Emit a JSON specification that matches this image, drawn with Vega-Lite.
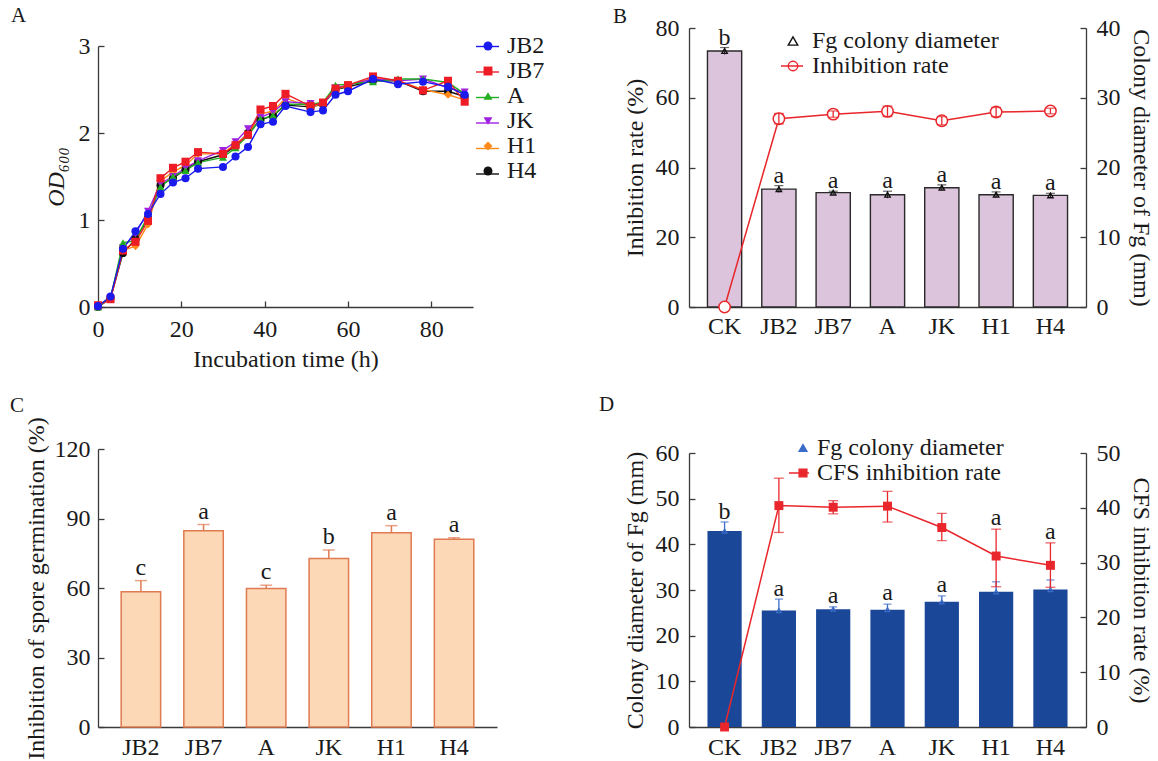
{
"$schema": "https://vega.github.io/schema/vega-lite/v6.json",
"padding": {"top": 5, "left": 10, "right": 5, "bottom": 5},
"config": {
 "font": "Liberation Serif",
 "view": {"stroke": null},
 "axis": {"grid": false, "labelFont": "Liberation Serif", "titleFont": "Liberation Serif", "labelFontSize": 24, "titleFontSize": 24, "titleFontWeight": "normal", "labelColor": "#1a1a1a", "titleColor": "#1a1a1a", "domainColor": "#3a3a3a", "tickColor": "#3a3a3a", "domainWidth": 1.3, "tickWidth": 1.3, "labelFlush": false},
 "legend": {"labelFont": "Liberation Serif", "labelFontSize": 24, "labelColor": "#1a1a1a", "labelLimit": 0},
 "title": {"font": "Liberation Serif", "fontSize": 21, "fontWeight": "normal", "anchor": "start", "frame": "group", "color": "#1a1a1a"}
},
"datasets": {
 "growth": [
  {"s":"H4","t":0,"od":0},{"s":"H4","t":3,"od":0.1},{"s":"H4","t":6,"od":0.62},{"s":"H4","t":9,"od":0.78},{"s":"H4","t":12,"od":1.02},{"s":"H4","t":15,"od":1.4},{"s":"H4","t":18,"od":1.48},{"s":"H4","t":21,"od":1.58},{"s":"H4","t":24,"od":1.67},{"s":"H4","t":30,"od":1.75},{"s":"H4","t":33,"od":1.85},{"s":"H4","t":36,"od":2.0},{"s":"H4","t":39,"od":2.15},{"s":"H4","t":42,"od":2.2},{"s":"H4","t":45,"od":2.32},{"s":"H4","t":51,"od":2.3},{"s":"H4","t":54,"od":2.33},{"s":"H4","t":57,"od":2.5},{"s":"H4","t":60,"od":2.53},{"s":"H4","t":66,"od":2.6},{"s":"H4","t":72,"od":2.6},{"s":"H4","t":78,"od":2.48},{"s":"H4","t":84,"od":2.48},{"s":"H4","t":88,"od":2.42},
  {"s":"H1","t":0,"od":0},{"s":"H1","t":3,"od":0.1},{"s":"H1","t":6,"od":0.65},{"s":"H1","t":9,"od":0.7},{"s":"H1","t":12,"od":0.95},{"s":"H1","t":15,"od":1.45},{"s":"H1","t":18,"od":1.55},{"s":"H1","t":21,"od":1.63},{"s":"H1","t":24,"od":1.76},{"s":"H1","t":30,"od":1.76},{"s":"H1","t":33,"od":1.88},{"s":"H1","t":36,"od":1.98},{"s":"H1","t":39,"od":2.22},{"s":"H1","t":42,"od":2.25},{"s":"H1","t":45,"od":2.4},{"s":"H1","t":51,"od":2.3},{"s":"H1","t":54,"od":2.34},{"s":"H1","t":57,"od":2.5},{"s":"H1","t":60,"od":2.55},{"s":"H1","t":66,"od":2.63},{"s":"H1","t":72,"od":2.6},{"s":"H1","t":78,"od":2.5},{"s":"H1","t":84,"od":2.44},{"s":"H1","t":88,"od":2.38},
  {"s":"JK","t":0,"od":0},{"s":"JK","t":3,"od":0.1},{"s":"JK","t":6,"od":0.68},{"s":"JK","t":9,"od":0.84},{"s":"JK","t":12,"od":1.1},{"s":"JK","t":15,"od":1.42},{"s":"JK","t":18,"od":1.5},{"s":"JK","t":21,"od":1.6},{"s":"JK","t":24,"od":1.68},{"s":"JK","t":30,"od":1.8},{"s":"JK","t":33,"od":1.9},{"s":"JK","t":36,"od":2.05},{"s":"JK","t":39,"od":2.18},{"s":"JK","t":42,"od":2.24},{"s":"JK","t":45,"od":2.36},{"s":"JK","t":51,"od":2.34},{"s":"JK","t":54,"od":2.33},{"s":"JK","t":57,"od":2.52},{"s":"JK","t":60,"od":2.55},{"s":"JK","t":66,"od":2.62},{"s":"JK","t":72,"od":2.6},{"s":"JK","t":78,"od":2.62},{"s":"JK","t":84,"od":2.52},{"s":"JK","t":88,"od":2.47},
  {"s":"A","t":0,"od":0},{"s":"A","t":3,"od":0.1},{"s":"A","t":6,"od":0.74},{"s":"A","t":9,"od":0.76},{"s":"A","t":12,"od":1.05},{"s":"A","t":15,"od":1.38},{"s":"A","t":18,"od":1.5},{"s":"A","t":21,"od":1.57},{"s":"A","t":24,"od":1.66},{"s":"A","t":30,"od":1.72},{"s":"A","t":33,"od":1.83},{"s":"A","t":36,"od":1.97},{"s":"A","t":39,"od":2.16},{"s":"A","t":42,"od":2.2},{"s":"A","t":45,"od":2.33},{"s":"A","t":51,"od":2.33},{"s":"A","t":54,"od":2.35},{"s":"A","t":57,"od":2.55},{"s":"A","t":60,"od":2.56},{"s":"A","t":66,"od":2.59},{"s":"A","t":72,"od":2.62},{"s":"A","t":78,"od":2.62},{"s":"A","t":84,"od":2.58},{"s":"A","t":88,"od":2.45},
  {"s":"JB7","t":0,"od":0.02},{"s":"JB7","t":3,"od":0.09},{"s":"JB7","t":6,"od":0.65},{"s":"JB7","t":9,"od":0.75},{"s":"JB7","t":12,"od":0.99},{"s":"JB7","t":15,"od":1.48},{"s":"JB7","t":18,"od":1.6},{"s":"JB7","t":21,"od":1.67},{"s":"JB7","t":24,"od":1.78},{"s":"JB7","t":30,"od":1.76},{"s":"JB7","t":33,"od":1.86},{"s":"JB7","t":36,"od":1.98},{"s":"JB7","t":39,"od":2.27},{"s":"JB7","t":42,"od":2.31},{"s":"JB7","t":45,"od":2.45},{"s":"JB7","t":51,"od":2.31},{"s":"JB7","t":54,"od":2.35},{"s":"JB7","t":57,"od":2.51},{"s":"JB7","t":60,"od":2.55},{"s":"JB7","t":66,"od":2.65},{"s":"JB7","t":72,"od":2.6},{"s":"JB7","t":78,"od":2.49},{"s":"JB7","t":84,"od":2.6},{"s":"JB7","t":88,"od":2.36},
  {"s":"JB2","t":0,"od":0.01},{"s":"JB2","t":3,"od":0.12},{"s":"JB2","t":6,"od":0.67},{"s":"JB2","t":9,"od":0.87},{"s":"JB2","t":12,"od":1.07},{"s":"JB2","t":15,"od":1.3},{"s":"JB2","t":18,"od":1.43},{"s":"JB2","t":21,"od":1.48},{"s":"JB2","t":24,"od":1.59},{"s":"JB2","t":30,"od":1.61},{"s":"JB2","t":33,"od":1.73},{"s":"JB2","t":36,"od":1.84},{"s":"JB2","t":39,"od":2.1},{"s":"JB2","t":42,"od":2.13},{"s":"JB2","t":45,"od":2.31},{"s":"JB2","t":51,"od":2.24},{"s":"JB2","t":54,"od":2.26},{"s":"JB2","t":57,"od":2.44},{"s":"JB2","t":60,"od":2.48},{"s":"JB2","t":66,"od":2.62},{"s":"JB2","t":72,"od":2.56},{"s":"JB2","t":78,"od":2.59},{"s":"JB2","t":84,"od":2.53},{"s":"JB2","t":88,"od":2.44}
 ],
 "tB": [
  {"g":"CK","diam":36.7,"dlo":36.2,"dhi":37.2,"inh":0,"ilo":null,"ihi":null,"ltr":"b"},
  {"g":"JB2","diam":16.9,"dlo":16.4,"dhi":17.4,"inh":54.0,"ilo":52.5,"ihi":55.5,"ltr":"a"},
  {"g":"JB7","diam":16.4,"dlo":16.2,"dhi":16.6,"inh":55.3,"ilo":54.4,"ihi":56.2,"ltr":"a"},
  {"g":"A","diam":16.1,"dlo":15.6,"dhi":16.6,"inh":56.1,"ilo":54.6,"ihi":57.6,"ltr":"a"},
  {"g":"JK","diam":17.1,"dlo":16.7,"dhi":17.5,"inh":53.4,"ilo":52.2,"ihi":54.6,"ltr":"a"},
  {"g":"H1","diam":16.1,"dlo":15.7,"dhi":16.5,"inh":55.9,"ilo":54.6,"ihi":57.2,"ltr":"a"},
  {"g":"H4","diam":16.0,"dlo":15.7,"dhi":16.3,"inh":56.2,"ilo":55.4,"ihi":57.0,"ltr":"a"}
 ],
 "tC": [
  {"g":"JB2","v":58.4,"hi":63.2,"ltr":"c"},
  {"g":"JB7","v":84.7,"hi":87.4,"ltr":"a"},
  {"g":"A","v":59.8,"hi":61.2,"ltr":"c"},
  {"g":"JK","v":72.7,"hi":76.4,"ltr":"b"},
  {"g":"H1","v":83.8,"hi":86.9,"ltr":"a"},
  {"g":"H4","v":81.0,"hi":81.7,"ltr":"a"}
 ],
 "tD": [
  {"g":"CK","diam":42.9,"dhi":44.9,"inh":0,"ilo":null,"ihi":null,"ltr":"b","ltrY":45.0},
  {"g":"JB2","diam":25.5,"dhi":28.0,"inh":40.4,"ilo":35.5,"ihi":45.4,"ltr":"a","ltrY":28.1},
  {"g":"JB7","diam":25.8,"dhi":26.3,"inh":40.1,"ilo":38.9,"ihi":41.3,"ltr":"a","ltrY":26.5},
  {"g":"A","diam":25.7,"dhi":26.9,"inh":40.3,"ilo":37.4,"ihi":43.0,"ltr":"a","ltrY":27.1},
  {"g":"JK","diam":27.4,"dhi":28.7,"inh":36.4,"ilo":34.0,"ihi":39.0,"ltr":"a","ltrY":28.9},
  {"g":"H1","diam":29.6,"dhi":31.8,"inh":31.2,"ilo":25.6,"ihi":36.1,"ltr":"a","ltrY":43.5},
  {"g":"H4","diam":30.1,"dhi":32.2,"inh":29.5,"ilo":25.5,"ihi":33.6,"ltr":"a","ltrY":40.5}
 ]
},
"bounds": "flush",
"columns": 2,
"spacing": {"row": 142, "column": 192},
"resolve": {"scale": {"color": "independent", "shape": "independent", "size": "independent", "fill": "independent", "stroke": "independent"}, "legend": {"color": "independent", "shape": "independent", "size": "independent", "fill": "independent", "stroke": "independent"}},
"concat": [
  {
   "width": 375, "height": 279,
   "title": {"text": "A", "dx": -87, "offset": 2},
   "data": {"name": "growth"},
   "encoding": {
    "x": {"field": "t", "type": "quantitative", "scale": {"domain": [0, 90]}, "axis": {"title": "Incubation time (h)", "values": [0, 20, 40, 60, 80], "tickSize": -6, "labelPadding": 16, "titlePadding": 6}},
    "y": {"field": "od", "type": "quantitative", "scale": {"domain": [0, 3], "range": [279, 18]}, "axis": {"title": "OD₆₀₀", "titleFontStyle": "italic", "values": [0, 1, 2, 3], "tickSize": -6, "labelPadding": 14, "titlePadding": 10}}
   },
   "layer": [
    {"mark": {"type": "line", "strokeWidth": 1.4},
     "encoding": {"stroke": {"field": "s", "type": "nominal", "scale": {"domain": ["JB2","JB7","A","JK","H1","H4"], "range": ["#1a1aee","#ee1c24","#22ad22","#a020e0","#ff8a1a","#111111"]}, "legend": {"orient": "none", "legendX": 377, "legendY": 6, "title": null, "symbolType": "stroke", "symbolSize": 529, "symbolStrokeWidth": 1.4, "rowPadding": 0.5, "labelOffset": 7, "labelColor": "transparent"}}}},
    {"mark": {"type": "point", "filled": true, "opacity": 1, "size": 65},
     "encoding": {
      "fill": {"field": "s", "type": "nominal", "scale": {"domain": ["JB2","JB7","A","JK","H1","H4","-"], "range": ["#1a1aee","#ee1c24","#22ad22","#a020e0","#ff8a1a","#111111","#111111"]}, "legend": {"orient": "none", "legendX": 378, "legendY": 6, "title": null, "values": ["JB2","JB7","A","JK","H1","H4"], "symbolSize": 80, "rowPadding": 1, "labelOffset": 7}},
      "shape": {"field": "s", "type": "nominal", "scale": {"domain": ["JB2","JB7","A","JK","H1","H4","-"], "range": ["circle","square","triangle-up","triangle-down","diamond","circle","circle"]}, "legend": {"orient": "none", "legendX": 378, "legendY": 6, "title": null, "values": ["JB2","JB7","A","JK","H1","H4"], "symbolSize": 80, "rowPadding": 1, "labelOffset": 7}}
     }}
   ]
  },
  {
   "width": 397, "height": 279,
   "title": {"text": "B", "dx": -76, "offset": -11},
   "data": {"name": "tB"},
   "encoding": {"x": {"field": "g", "type": "nominal", "sort": ["CK","JB2","JB7","A","JK","H1","H4"], "scale": {"paddingInner": 0.37, "paddingOuter": 0.34}, "axis": {"title": null, "labelAngle": 0, "ticks": false, "labelPadding": 7}}},
   "layer": [
    {"layer": [
     {"mark": {"type": "bar", "fill": "#dcc4dc", "stroke": "#2a2a2a", "strokeWidth": 1.4},
      "encoding": {"y": {"field": "diam", "type": "quantitative", "scale": {"domain": [0, 40]}, "axis": {"orient": "right", "title": "Colony diameter of Fg (mm)", "values": [0,10,20,30,40], "tickSize": -6, "labelPadding": 16, "titlePadding": 8}}}},
     {"mark": {"type": "rule", "color": "#2a2a2a", "strokeWidth": 1.2},
      "encoding": {"y": {"field": "dlo", "type": "quantitative", "scale": {"domain": [0, 40]}, "axis": {"orient": "right", "title": "Colony diameter of Fg (mm)", "values": [0,10,20,30,40], "tickSize": -6, "labelPadding": 16, "titlePadding": 8}}, "y2": {"field": "dhi"}}},
     {"mark": {"type": "tick", "color": "#2a2a2a", "thickness": 1.2, "size": 9},
      "encoding": {"y": {"field": "dhi", "type": "quantitative", "scale": {"domain": [0, 40]}, "axis": {"orient": "right", "title": "Colony diameter of Fg (mm)", "values": [0,10,20,30,40], "tickSize": -6, "labelPadding": 16, "titlePadding": 8}}}},
     {"mark": {"type": "point", "filled": false, "size": 30, "strokeWidth": 1.3, "opacity": 1},
      "encoding": {"y": {"field": "diam", "type": "quantitative", "scale": {"domain": [0, 40]}, "axis": {"orient": "right", "title": "Colony diameter of Fg (mm)", "values": [0,10,20,30,40], "tickSize": -6, "labelPadding": 16, "titlePadding": 8}},
       "shape": {"datum": "Fg colony diameter", "type": "nominal", "scale": {"domain": ["Fg colony diameter", "Inhibition rate"], "range": ["triangle-up", "circle"]}, "legend": {"orient": "none", "legendX": 92, "legendY": 1, "title": null, "symbolSize": 90, "rowPadding": 1, "labelOffset": 7, "symbolStrokeWidth": 1.4}},
       "color": {"datum": "Fg colony diameter", "type": "nominal", "scale": {"domain": ["Fg colony diameter", "Inhibition rate"], "range": ["#111111", "#e8262b"]}, "legend": {"orient": "none", "legendX": 92, "legendY": 1, "title": null, "symbolSize": 90, "rowPadding": 1, "labelOffset": 7, "symbolStrokeWidth": 1.4}}}},
     {"mark": {"type": "text", "baseline": "alphabetic", "dy": -3, "fontSize": 24, "color": "#1a1a1a"},
      "encoding": {"y": {"field": "dhi", "type": "quantitative", "scale": {"domain": [0, 40]}, "axis": {"orient": "right", "title": "Colony diameter of Fg (mm)", "values": [0,10,20,30,40], "tickSize": -6, "labelPadding": 16, "titlePadding": 8}}, "text": {"field": "ltr"}}}
    ]},
    {"layer": [
     {"mark": {"type": "line", "strokeWidth": 1.5},
      "encoding": {"y": {"field": "inh", "type": "quantitative", "scale": {"domain": [0, 80]}, "axis": {"orient": "left", "title": "Inhibition rate (%)", "values": [0,20,40,60,80], "tickSize": -6, "labelPadding": 16, "titlePadding": 8}},
       "stroke": {"datum": "Inhibition rate", "type": "nominal", "scale": {"domain": ["Inhibition rate"], "range": ["#e8262b"]}, "legend": {"orient": "none", "legendX": 91, "legendY": 26, "title": null, "symbolType": "stroke", "symbolSize": 484, "symbolStrokeWidth": 1.5, "labelColor": "transparent"}}}},
     {"mark": {"type": "point", "filled": false, "fill": "white", "size": 130, "strokeWidth": 1.5, "opacity": 1},
      "encoding": {"y": {"field": "inh", "type": "quantitative", "scale": {"domain": [0, 80]}, "axis": {"orient": "left", "title": "Inhibition rate (%)", "values": [0,20,40,60,80], "tickSize": -6, "labelPadding": 16, "titlePadding": 8}},
       "shape": {"datum": "Inhibition rate", "type": "nominal", "scale": {"domain": ["Fg colony diameter", "Inhibition rate"], "range": ["triangle-up", "circle"]}, "legend": {"orient": "none", "legendX": 92, "legendY": 1, "title": null, "symbolSize": 90, "rowPadding": 1, "labelOffset": 7, "symbolStrokeWidth": 1.4}},
       "color": {"datum": "Inhibition rate", "type": "nominal", "scale": {"domain": ["Fg colony diameter", "Inhibition rate"], "range": ["#111111", "#e8262b"]}, "legend": {"orient": "none", "legendX": 92, "legendY": 1, "title": null, "symbolSize": 90, "rowPadding": 1, "labelOffset": 7, "symbolStrokeWidth": 1.4}}}},
     {"mark": {"type": "rule", "color": "#e8262b", "strokeWidth": 1.3},
      "encoding": {"y": {"field": "ilo", "type": "quantitative", "scale": {"domain": [0, 80]}, "axis": {"orient": "left", "title": "Inhibition rate (%)", "values": [0,20,40,60,80], "tickSize": -6, "labelPadding": 16, "titlePadding": 8}}, "y2": {"field": "ihi"}}},
     {"mark": {"type": "tick", "color": "#e8262b", "thickness": 1.3, "size": 10},
      "encoding": {"y": {"field": "ihi", "type": "quantitative", "scale": {"domain": [0, 80]}, "axis": {"orient": "left", "title": "Inhibition rate (%)", "values": [0,20,40,60,80], "tickSize": -6, "labelPadding": 16, "titlePadding": 8}}}},
     {"mark": {"type": "tick", "color": "#e8262b", "thickness": 1.3, "size": 10},
      "encoding": {"y": {"field": "ilo", "type": "quantitative", "scale": {"domain": [0, 80]}, "axis": {"orient": "left", "title": "Inhibition rate (%)", "values": [0,20,40,60,80], "tickSize": -6, "labelPadding": 16, "titlePadding": 8}}}}
    ]}
   ],
   "resolve": {"scale": {"y": "independent"}}
  },
  {
   "width": 399, "height": 278,
   "title": {"text": "C", "dx": -88, "offset": 1},
   "data": {"name": "tC"},
   "encoding": {
    "x": {"field": "g", "type": "nominal", "sort": ["JB2","JB7","A","JK","H1","H4"], "scale": {"paddingInner": 0.37, "paddingOuter": 0.37}, "axis": {"title": null, "labelAngle": 0, "ticks": false, "labelPadding": 8}}
   },
   "layer": [
    {"mark": {"type": "bar", "fill": "#fdd8b6", "stroke": "#e07a50", "strokeWidth": 1.5},
     "encoding": {"y": {"field": "v", "type": "quantitative", "scale": {"domain": [0, 120]}, "axis": {"title": "Inhibition of spore germination (%)", "values": [0,30,60,90,120], "tickSize": -6, "labelPadding": 14, "titlePadding": 6}}}},
    {"mark": {"type": "rule", "color": "#e07a50", "strokeWidth": 1.5},
     "encoding": {"y": {"field": "v", "type": "quantitative", "scale": {"domain": [0, 120]}, "axis": {"title": "Inhibition of spore germination (%)", "values": [0,30,60,90,120], "tickSize": -6, "labelPadding": 14, "titlePadding": 6}}, "y2": {"field": "hi"}}},
    {"mark": {"type": "tick", "color": "#e07a50", "thickness": 1.5, "size": 12},
     "encoding": {"y": {"field": "hi", "type": "quantitative", "scale": {"domain": [0, 120]}, "axis": {"title": "Inhibition of spore germination (%)", "values": [0,30,60,90,120], "tickSize": -6, "labelPadding": 14, "titlePadding": 6}}}},
    {"mark": {"type": "text", "baseline": "alphabetic", "dy": -6, "fontSize": 24, "color": "#1a1a1a"},
     "encoding": {"y": {"field": "hi", "type": "quantitative", "scale": {"domain": [0, 120]}, "axis": {"title": "Inhibition of spore germination (%)", "values": [0,30,60,90,120], "tickSize": -6, "labelPadding": 14, "titlePadding": 6}}, "text": {"field": "ltr"}}}
   ]
  },
  {
   "width": 397, "height": 278,
   "title": {"text": "D", "dx": -90, "offset": 21},
   "data": {"name": "tD"},
   "encoding": {"x": {"field": "g", "type": "nominal", "sort": ["CK","JB2","JB7","A","JK","H1","H4"], "scale": {"paddingInner": 0.37, "paddingOuter": 0.34}, "axis": {"title": null, "labelAngle": 0, "ticks": false, "labelPadding": 8}}},
   "layer": [
    {"layer": [
     {"mark": {"type": "bar", "fill": "#1b4799"},
      "encoding": {"y": {"field": "diam", "type": "quantitative", "scale": {"domain": [0, 60], "range": [278, 4]}, "axis": {"orient": "left", "title": "Colony diameter of Fg (mm)", "values": [0,10,20,30,40,50,60], "tickSize": -6, "labelPadding": 16, "titlePadding": 8}}}},
     {"mark": {"type": "rule", "color": "#3a6cc8", "strokeWidth": 1.3},
      "encoding": {"y": {"field": "diam", "type": "quantitative", "scale": {"domain": [0, 60], "range": [278, 4]}, "axis": {"orient": "left", "title": "Colony diameter of Fg (mm)", "values": [0,10,20,30,40,50,60], "tickSize": -6, "labelPadding": 16, "titlePadding": 8}}, "y2": {"field": "dhi"}}},
     {"mark": {"type": "tick", "color": "#3a6cc8", "thickness": 1.3, "size": 8},
      "encoding": {"y": {"field": "dhi", "type": "quantitative", "scale": {"domain": [0, 60], "range": [278, 4]}, "axis": {"orient": "left", "title": "Colony diameter of Fg (mm)", "values": [0,10,20,30,40,50,60], "tickSize": -6, "labelPadding": 16, "titlePadding": 8}}}},
     {"mark": {"type": "point", "filled": false, "size": 22, "strokeWidth": 1.2, "opacity": 1},
      "encoding": {"y": {"field": "diam", "type": "quantitative", "scale": {"domain": [0, 60], "range": [278, 4]}, "axis": {"orient": "left", "title": "Colony diameter of Fg (mm)", "values": [0,10,20,30,40,50,60], "tickSize": -6, "labelPadding": 16, "titlePadding": 8}},
       "shape": {"datum": "Fg colony diameter", "type": "nominal", "scale": {"domain": ["Fg colony diameter", "CFS inhibition rate"], "range": ["triangle-up", "square"]}, "legend": {"orient": "none", "legendX": 102, "legendY": -13, "title": null, "symbolSize": 60, "rowPadding": 1, "labelOffset": 2, "symbolStrokeWidth": 1.4}},
       "color": {"datum": "Fg colony diameter", "type": "nominal", "scale": {"domain": ["Fg colony diameter", "CFS inhibition rate"], "range": ["#3a6cc8", "#e8262b"]}, "legend": {"orient": "none", "legendX": 102, "legendY": -13, "title": null, "symbolSize": 60, "rowPadding": 1, "labelOffset": 2, "symbolStrokeWidth": 1.4}}}},
     {"mark": {"type": "text", "baseline": "alphabetic", "dy": -3, "fontSize": 24, "color": "#1a1a1a"},
      "encoding": {"y": {"field": "ltrY", "type": "quantitative", "scale": {"domain": [0, 60], "range": [278, 4]}, "axis": {"orient": "left", "title": "Colony diameter of Fg (mm)", "values": [0,10,20,30,40,50,60], "tickSize": -6, "labelPadding": 16, "titlePadding": 8}}, "text": {"field": "ltr"}}}
    ]},
    {"layer": [
     {"mark": {"type": "line", "strokeWidth": 1.5},
      "encoding": {"y": {"field": "inh", "type": "quantitative", "scale": {"domain": [0, 50], "range": [278, 4]}, "axis": {"orient": "right", "title": "CFS inhibition rate (%)", "values": [0,10,20,30,40,50], "tickSize": -6, "labelPadding": 16, "titlePadding": 8}},
       "stroke": {"datum": "CFS inhibition rate", "type": "nominal", "scale": {"domain": ["CFS inhibition rate"], "range": ["#e8262b"]}, "legend": {"orient": "none", "legendX": 98, "legendY": 12, "title": null, "symbolType": "stroke", "symbolSize": 400, "symbolStrokeWidth": 1.5, "labelColor": "transparent"}}}},
     {"mark": {"type": "rule", "color": "#e8262b", "strokeWidth": 1.3},
      "encoding": {"y": {"field": "ilo", "type": "quantitative", "scale": {"domain": [0, 50], "range": [278, 4]}, "axis": {"orient": "right", "title": "CFS inhibition rate (%)", "values": [0,10,20,30,40,50], "tickSize": -6, "labelPadding": 16, "titlePadding": 8}}, "y2": {"field": "ihi"}}},
     {"mark": {"type": "tick", "color": "#e8262b", "thickness": 1.3, "size": 10},
      "encoding": {"y": {"field": "ihi", "type": "quantitative", "scale": {"domain": [0, 50], "range": [278, 4]}, "axis": {"orient": "right", "title": "CFS inhibition rate (%)", "values": [0,10,20,30,40,50], "tickSize": -6, "labelPadding": 16, "titlePadding": 8}}}},
     {"mark": {"type": "tick", "color": "#e8262b", "thickness": 1.3, "size": 10},
      "encoding": {"y": {"field": "ilo", "type": "quantitative", "scale": {"domain": [0, 50], "range": [278, 4]}, "axis": {"orient": "right", "title": "CFS inhibition rate (%)", "values": [0,10,20,30,40,50], "tickSize": -6, "labelPadding": 16, "titlePadding": 8}}}},
     {"mark": {"type": "point", "filled": true, "size": 80, "opacity": 1},
      "encoding": {"y": {"field": "inh", "type": "quantitative", "scale": {"domain": [0, 50], "range": [278, 4]}, "axis": {"orient": "right", "title": "CFS inhibition rate (%)", "values": [0,10,20,30,40,50], "tickSize": -6, "labelPadding": 16, "titlePadding": 8}},
       "shape": {"datum": "CFS inhibition rate", "type": "nominal", "scale": {"domain": ["Fg colony diameter", "CFS inhibition rate"], "range": ["triangle-up", "square"]}, "legend": {"orient": "none", "legendX": 102, "legendY": -13, "title": null, "symbolSize": 60, "rowPadding": 1, "labelOffset": 2, "symbolStrokeWidth": 1.4}},
       "color": {"datum": "CFS inhibition rate", "type": "nominal", "scale": {"domain": ["Fg colony diameter", "CFS inhibition rate"], "range": ["#3a6cc8", "#e8262b"]}, "legend": {"orient": "none", "legendX": 102, "legendY": -13, "title": null, "symbolSize": 60, "rowPadding": 1, "labelOffset": 2, "symbolStrokeWidth": 1.4}}}}
    ]}
   ],
   "resolve": {"scale": {"y": "independent"}}
  }
]
}
